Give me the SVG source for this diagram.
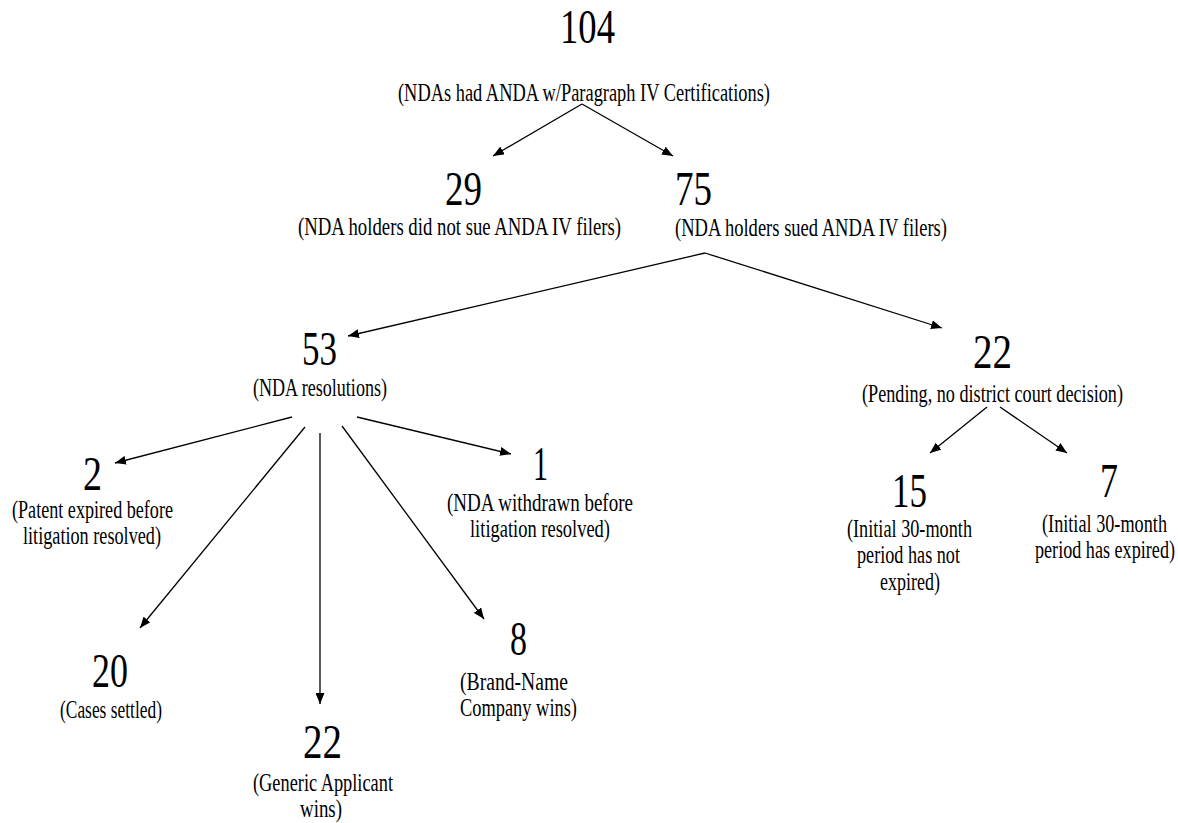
<svg xmlns="http://www.w3.org/2000/svg" width="1178" height="823" viewBox="0 0 1178 823">
<style>
text{font-family:"Liberation Serif","Times New Roman",serif;fill:#000}
.n{font-size:36.3px}
.l{font-size:18.5px}
.c{stroke:#000;stroke-width:1.3;fill:none;marker-end:url(#ah)}
</style>
<defs>
<marker id="ah" markerUnits="userSpaceOnUse" markerWidth="11" markerHeight="9" refX="11" refY="4.5" orient="auto">
<path d="M0,0 L11,4.5 L0,9 z" fill="#000"/>
</marker>
</defs>
<rect width="1178" height="823" fill="#fff"/>
<g id="connectors">
<line class="c" x1="582" y1="104" x2="493" y2="156"/>
<line class="c" x1="582" y1="104" x2="673" y2="156"/>
<line class="c" x1="705" y1="253" x2="348" y2="336"/>
<line class="c" x1="705" y1="253" x2="942" y2="328"/>
<line class="c" x1="987" y1="407" x2="930" y2="453"/>
<line class="c" x1="1000" y1="407" x2="1067" y2="453"/>
<line class="c" x1="292" y1="417" x2="115" y2="463"/>
<line class="c" x1="305" y1="427" x2="140" y2="628"/>
<line class="c" x1="320" y1="433" x2="320" y2="704"/>
<line class="c" x1="342" y1="426" x2="484" y2="619"/>
<line class="c" x1="357" y1="417" x2="511" y2="454"/>
</g>
<g transform="scale(1,1.35)">
<g id="n104">
<text class="n" x="560" y="31.85" textLength="55" lengthAdjust="spacingAndGlyphs">104</text>
<text class="l" x="398" y="74.81" textLength="372" lengthAdjust="spacingAndGlyphs">(NDAs had ANDA w/Paragraph IV Certifications)</text>
</g>
<g id="n29">
<text class="n" x="445" y="151.85" textLength="37" lengthAdjust="spacingAndGlyphs">29</text>
<text class="l" x="298" y="174.07" textLength="323" lengthAdjust="spacingAndGlyphs">(NDA holders did not sue ANDA IV filers)</text>
</g>
<g id="n75">
<text class="n" x="675" y="151.85" textLength="37" lengthAdjust="spacingAndGlyphs">75</text>
<text class="l" x="675" y="174.81" textLength="272" lengthAdjust="spacingAndGlyphs">(NDA holders sued ANDA IV filers)</text>
</g>
<g id="n53">
<text class="n" x="302" y="270.37" textLength="35" lengthAdjust="spacingAndGlyphs">53</text>
<text class="l" x="253" y="293.33" textLength="134" lengthAdjust="spacingAndGlyphs">(NDA resolutions)</text>
</g>
<g id="n22p">
<text class="n" x="973" y="272.59" textLength="39" lengthAdjust="spacingAndGlyphs">22</text>
<text class="l" x="862" y="297.78" textLength="261" lengthAdjust="spacingAndGlyphs">(Pending, no district court decision)</text>
</g>
<g id="n15">
<text class="n" x="892" y="375.56" textLength="35" lengthAdjust="spacingAndGlyphs">15</text>
<text class="l" x="847" y="397.78" textLength="125" lengthAdjust="spacingAndGlyphs">(Initial 30-month</text>
<text class="l" x="857" y="417.04" textLength="103" lengthAdjust="spacingAndGlyphs">period has not</text>
<text class="l" x="880" y="437.04" textLength="60" lengthAdjust="spacingAndGlyphs">expired)</text>
</g>
<g id="n7">
<text class="n" x="1100" y="368.15" textLength="18" lengthAdjust="spacingAndGlyphs">7</text>
<text class="l" x="1042" y="394.07" textLength="125" lengthAdjust="spacingAndGlyphs">(Initial 30-month</text>
<text class="l" x="1035" y="413.33" textLength="140" lengthAdjust="spacingAndGlyphs">period has expired)</text>
</g>
<g id="n2">
<text class="n" x="83" y="362.96" textLength="19" lengthAdjust="spacingAndGlyphs">2</text>
<text class="l" x="12" y="383.70" textLength="161" lengthAdjust="spacingAndGlyphs">(Patent expired before</text>
<text class="l" x="23" y="402.96" textLength="138" lengthAdjust="spacingAndGlyphs">litigation resolved)</text>
</g>
<g id="n1">
<text class="n" x="533" y="355.56" textLength="15" lengthAdjust="spacingAndGlyphs">1</text>
<text class="l" x="447" y="378.52" textLength="186" lengthAdjust="spacingAndGlyphs">(NDA withdrawn before</text>
<text class="l" x="470" y="397.78" textLength="140" lengthAdjust="spacingAndGlyphs">litigation resolved)</text>
</g>
<g id="n20">
<text class="n" x="92" y="508.89" textLength="36" lengthAdjust="spacingAndGlyphs">20</text>
<text class="l" x="60" y="531.85" textLength="102" lengthAdjust="spacingAndGlyphs">(Cases settled)</text>
</g>
<g id="n22g">
<text class="n" x="303" y="561.48" textLength="39" lengthAdjust="spacingAndGlyphs">22</text>
<text class="l" x="253" y="585.93" textLength="140" lengthAdjust="spacingAndGlyphs">(Generic Applicant</text>
<text class="l" x="300" y="605.19" textLength="42" lengthAdjust="spacingAndGlyphs">wins)</text>
</g>
<g id="n8">
<text class="n" x="510" y="485.19" textLength="17" lengthAdjust="spacingAndGlyphs">8</text>
<text class="l" x="460" y="511.11" textLength="108" lengthAdjust="spacingAndGlyphs">(Brand-Name</text>
<text class="l" x="460" y="530.37" textLength="117" lengthAdjust="spacingAndGlyphs">Company wins)</text>
</g>
</g>
</svg>
